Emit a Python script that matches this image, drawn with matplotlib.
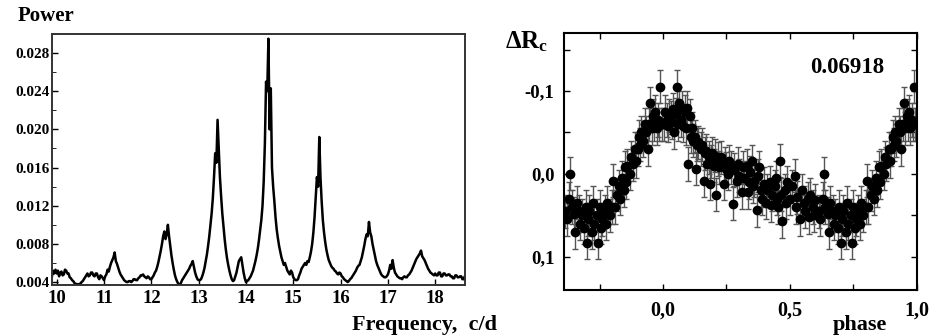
import numpy as np
import matplotlib.pyplot as plt
from matplotlib.ticker import MultipleLocator, FixedLocator

plt.rcParams["font.family"] = ["Liberation Serif", "DejaVu Serif"]
plt.rcParams["font.weight"] = "bold"
plt.rcParams["mathtext.fontset"] = "custom"
plt.rcParams["mathtext.rm"] = "Liberation Serif"
plt.rcParams["mathtext.bf"] = "Liberation Serif:bold"

# periodogram, step 0.025 c/d starting at 9.90
freq_start = 9.90
freq_step = 0.025
power = [
    0.0046, 0.0052, 0.0049, 0.0053,
    # 10
    0.0049, 0.0052, 0.0046, 0.0050, 0.0051, 0.0047, 0.0048, 0.0053, 0.0052, 0.0049,
    0.0049, 0.0045, 0.0044, 0.0042, 0.0041, 0.0039, 0.0038, 0.0038, 0.0037, 0.0038,
    0.0038, 0.0040, 0.0041, 0.0043, 0.0045, 0.0047, 0.0049, 0.0046, 0.0047, 0.0050,
    0.0050, 0.0047, 0.0046, 0.0049, 0.0049, 0.0045, 0.0043, 0.0047, 0.0046, 0.0044,
    # 11
    0.0042, 0.0046, 0.0048, 0.0053, 0.0051, 0.0056, 0.0060, 0.0063, 0.0066, 0.0071,
    0.0062, 0.0059, 0.0055, 0.0051, 0.0048, 0.0046, 0.0044, 0.0042, 0.0041, 0.0040,
    0.0040, 0.0041, 0.0041, 0.0040, 0.0041, 0.0043, 0.0043, 0.0042, 0.0042, 0.0044,
    0.0045, 0.0047, 0.0047, 0.0048, 0.0046, 0.0045, 0.0044, 0.0046, 0.0045, 0.0043,
    # 12
    0.0043, 0.0045, 0.0047, 0.0050, 0.0052, 0.0056, 0.0061, 0.0067, 0.0073, 0.0080,
    0.0088, 0.0093, 0.0085, 0.0090, 0.0100, 0.0088, 0.0078, 0.0068, 0.0060, 0.0053,
    0.0047, 0.0043, 0.0040, 0.0038, 0.0037, 0.0039, 0.0042, 0.0044, 0.0046, 0.0048,
    0.0050, 0.0052, 0.0054, 0.0057, 0.0059, 0.0062, 0.0056, 0.0050, 0.0046, 0.0043,
    # 13
    0.0042, 0.0042, 0.0043, 0.0046, 0.0050, 0.0055, 0.0062, 0.0069, 0.0078, 0.0088,
    0.0100, 0.0112, 0.0128, 0.0150, 0.0175, 0.0165, 0.0210, 0.0180, 0.0150, 0.0130,
    0.0112, 0.0098, 0.0085, 0.0074, 0.0065, 0.0058, 0.0052, 0.0047, 0.0043, 0.0041,
    0.0042, 0.0046, 0.0050, 0.0056, 0.0062, 0.0064, 0.0066, 0.0058, 0.0050, 0.0044,
    # 14
    0.0040, 0.0041, 0.0042, 0.0044, 0.0046, 0.0049, 0.0052, 0.0057, 0.0062, 0.0068,
    0.0075, 0.0084, 0.0095, 0.0105, 0.0120, 0.0145, 0.0185, 0.0250, 0.0240, 0.0295,
    0.0200, 0.0243, 0.0160, 0.0140, 0.0125, 0.0108, 0.0095, 0.0086, 0.0078, 0.0072,
    0.0066, 0.0062, 0.0058, 0.0060, 0.0056, 0.0052, 0.0050, 0.0048, 0.0052, 0.0050,
    # 15
    0.0045, 0.0043, 0.0042, 0.0042, 0.0043, 0.0047, 0.0050, 0.0054, 0.0056, 0.0058,
    0.0060, 0.0058, 0.0062, 0.0061, 0.0066, 0.0072, 0.0080, 0.0092, 0.0108, 0.0130,
    0.0150, 0.0140, 0.0192, 0.0150, 0.0125, 0.0105, 0.0092, 0.0082, 0.0074, 0.0068,
    0.0063, 0.0060, 0.0057, 0.0055, 0.0054, 0.0052, 0.0051, 0.0049, 0.0048, 0.0050,
    # 16
    0.0049, 0.0046, 0.0045, 0.0043, 0.0042, 0.0041, 0.0040, 0.0041, 0.0043, 0.0044,
    0.0046, 0.0048, 0.0050, 0.0052, 0.0055, 0.0057, 0.0058, 0.0062, 0.0066, 0.0072,
    0.0078, 0.0085, 0.0090, 0.0088, 0.0103, 0.0092, 0.0088, 0.0080, 0.0074, 0.0068,
    0.0062, 0.0058, 0.0055, 0.0052, 0.0049, 0.0047, 0.0046, 0.0045, 0.0045, 0.0046,
    # 17
    0.0048, 0.0052, 0.0058, 0.0054, 0.0063, 0.0055, 0.0050, 0.0048, 0.0046, 0.0045,
    0.0044, 0.0044, 0.0043, 0.0045, 0.0046, 0.0045, 0.0045, 0.0047, 0.0048, 0.0050,
    0.0052, 0.0055, 0.0058, 0.0061, 0.0064, 0.0066, 0.0068, 0.0070, 0.0073, 0.0067,
    0.0065, 0.0063, 0.0060, 0.0057, 0.0054, 0.0052, 0.0050, 0.0049, 0.0048, 0.0047,
    # 18
    0.0049, 0.0047, 0.0047, 0.0050, 0.0050, 0.0046, 0.0046, 0.0049, 0.0049, 0.0047,
    0.0047, 0.0048, 0.0048, 0.0046, 0.0046, 0.0044, 0.0044, 0.0047, 0.0047, 0.0045,
    0.0045, 0.0046, 0.0046, 0.0043, 0.0043, 0.0046, 0.0045,
]
freq = freq_start + freq_step * np.arange(len(power))

# phased light curve, one cycle
phase = [
    0.005, 0.010, 0.015, 0.020, 0.025, 0.030, 0.035, 0.040, 0.045, 0.050,
    0.055, 0.060, 0.065, 0.070, 0.075, 0.080, 0.085, 0.090, 0.095, 0.100,
    0.105, 0.110, 0.115, 0.120, 0.125, 0.130, 0.135, 0.140, 0.150, 0.155,
    0.160, 0.165, 0.170, 0.175, 0.180, 0.185, 0.190, 0.195, 0.200, 0.205,
    0.210, 0.215, 0.220, 0.230, 0.240, 0.245, 0.250, 0.255, 0.260, 0.270,
    0.275, 0.280, 0.290, 0.295, 0.300, 0.310, 0.315, 0.320, 0.330, 0.335,
    0.340, 0.345, 0.350, 0.355, 0.360, 0.370, 0.375, 0.380, 0.385, 0.390,
    0.400, 0.405, 0.410, 0.420, 0.425, 0.430, 0.440, 0.445, 0.450, 0.455,
    0.460, 0.465, 0.470, 0.480, 0.485, 0.490, 0.500, 0.510, 0.520, 0.525,
    0.530, 0.540, 0.550, 0.555, 0.560, 0.570, 0.575, 0.580, 0.590, 0.595,
    0.600, 0.615, 0.620, 0.630, 0.635, 0.640, 0.650, 0.655, 0.660, 0.670,
    0.675, 0.680, 0.690, 0.695, 0.700, 0.705, 0.710, 0.720, 0.725, 0.730,
    0.740, 0.745, 0.750, 0.755, 0.760, 0.770, 0.775, 0.780, 0.790, 0.800,
    0.805, 0.810, 0.820, 0.825, 0.830, 0.840, 0.845, 0.850, 0.855, 0.860,
    0.870, 0.875, 0.880, 0.890, 0.895, 0.900, 0.905, 0.910, 0.915, 0.920,
    0.930, 0.935, 0.940, 0.945, 0.950, 0.955, 0.960, 0.965, 0.970, 0.975,
    0.980, 0.985, 0.990, 0.995,
]
delta_rc = [
    -0.060, -0.075, -0.065, -0.058, -0.070, -0.068, -0.062, -0.078, -0.050, -0.072,
    -0.105, -0.060, -0.085, -0.065, -0.080, -0.058, -0.075, -0.055, -0.080, -0.012,
    -0.070, -0.045, -0.055, -0.040, -0.045, -0.006, -0.035, -0.038, -0.030, -0.035,
    0.008, -0.025, -0.028, -0.012, -0.020, 0.012, -0.015, -0.025, -0.010, -0.022,
    0.025, -0.018, -0.008, -0.020, 0.012, -0.012, -0.006, 0.000, -0.015, -0.008,
    0.036, -0.005, 0.008, -0.012, 0.002, 0.022, -0.008, 0.005, -0.010, 0.022,
    0.010, -0.002, -0.015, 0.015, 0.008, 0.044, 0.002, -0.008, 0.020, 0.030,
    0.012, 0.035, 0.020, 0.010, 0.038, 0.025, 0.015, 0.005, 0.030, 0.040,
    -0.016, 0.025, 0.057, 0.020, 0.035, 0.010, 0.030, 0.015, 0.002, 0.040,
    0.028, 0.055, 0.020, 0.035, 0.045, 0.030, 0.052, 0.025, 0.040, 0.050,
    0.032, 0.045, 0.055, 0.030, 0.000, 0.040, 0.048, 0.070, 0.035, 0.045,
    0.060, 0.050, 0.065, 0.040, 0.083, 0.055, 0.045, 0.070, 0.035, 0.060,
    0.050, 0.083, 0.040, 0.065, 0.055, 0.045, 0.060, 0.035, 0.050, 0.040,
    0.008, 0.040, 0.025, 0.015, 0.030, 0.005, 0.020, -0.008, 0.010, -0.010,
    0.000, -0.020, -0.012, -0.030, -0.015, -0.030, -0.045, -0.035, -0.050, -0.040,
    -0.060, -0.050, -0.030, -0.060, -0.085, -0.055, -0.070, -0.060, -0.075, -0.055,
    -0.065, -0.060, -0.105, -0.060,
]
err = 0.02

fig = plt.figure(figsize=(9.33, 3.36), dpi=100)

# ---- periodogram
ax1 = fig.add_axes([0.0557, 0.152, 0.4427, 0.747])
ax1.plot(freq, power, color="black", lw=1.8)
ax1.set_xlim(9.9, 18.63)
ax1.set_ylim(0.0037, 0.030)
ax1.xaxis.set_major_locator(MultipleLocator(1))
ax1.yaxis.set_major_locator(FixedLocator([0.004, 0.008, 0.012, 0.016, 0.020, 0.024, 0.028]))
ax1.yaxis.set_minor_locator(MultipleLocator(0.002))
ax1.yaxis.set_major_formatter(plt.FuncFormatter(lambda v, p: f"{v:.3f}"))
ax1.tick_params(direction="in", length=4, width=1)
ax1.tick_params(axis="x", labelsize=13.5, pad=4)
ax1.tick_params(axis="y", labelsize=11, pad=1.5)
ax1.tick_params(which="minor", direction="in", length=3)
for s in ax1.spines.values():
    s.set_linewidth(1.4)
    s.set_color("#333333")
fig.text(18 / 933, 1 - 16 / 336, "Power", fontsize=15, fontweight="bold", va="center")
fig.text(497 / 933, 1 - 325 / 336, "Frequency,  c/d", fontsize=16,
         fontweight="bold", ha="right", va="center")

# ---- phased light curve
ax2 = fig.add_axes([0.6045, 0.137, 0.378, 0.765])
ph = np.array(phase)
dr = np.array(delta_rc)
x_all = np.concatenate([ph, ph - 1])
y_all = np.concatenate([dr, dr])
keep = x_all >= -0.39
ax2.errorbar(x_all[keep], y_all[keep], yerr=err, fmt="o", color="black",
             ecolor="#555555", elinewidth=1, capsize=2.5, capthick=1,
             markersize=6)
ax2.set_xlim(-0.39, 1.0)
ax2.set_ylim(0.14, -0.17)
ax2.xaxis.set_major_locator(FixedLocator([0.0, 0.5, 1.0]))
ax2.xaxis.set_minor_locator(MultipleLocator(0.25))
ax2.yaxis.set_major_locator(FixedLocator([-0.1, 0.0, 0.1]))
ax2.yaxis.set_minor_locator(MultipleLocator(0.05))
ax2.xaxis.set_major_formatter(plt.FuncFormatter(lambda v, p: f"{v:.1f}".replace(".", ",")))
ax2.yaxis.set_major_formatter(plt.FuncFormatter(
    lambda v, p: f"{v:.1f}".replace(".", ",").replace("-0,0", "0,0")))
ax2.tick_params(which="both", direction="in", top=True, right=True, width=1)
ax2.tick_params(which="major", length=4, pad=7)
ax2.tick_params(axis="x", labelsize=14.5, pad=8)
ax2.tick_params(axis="y", labelsize=13.5)
ax2.tick_params(which="minor", length=4)
for s in ax2.spines.values():
    s.set_linewidth(1.5)
ax2.text(0.727, -0.128, "0.06918", fontsize=16.5, fontweight="bold",
         ha="center", va="center")
fig.text(505 / 933, 1 - 42 / 336, r"$\mathbf{\Delta R_c}$", fontsize=18,
         va="center")
fig.text(860 / 933, 1 - 325 / 336, "phase", fontsize=16, fontweight="bold",
         ha="center", va="center")

fig.savefig("out.png", dpi=100)
